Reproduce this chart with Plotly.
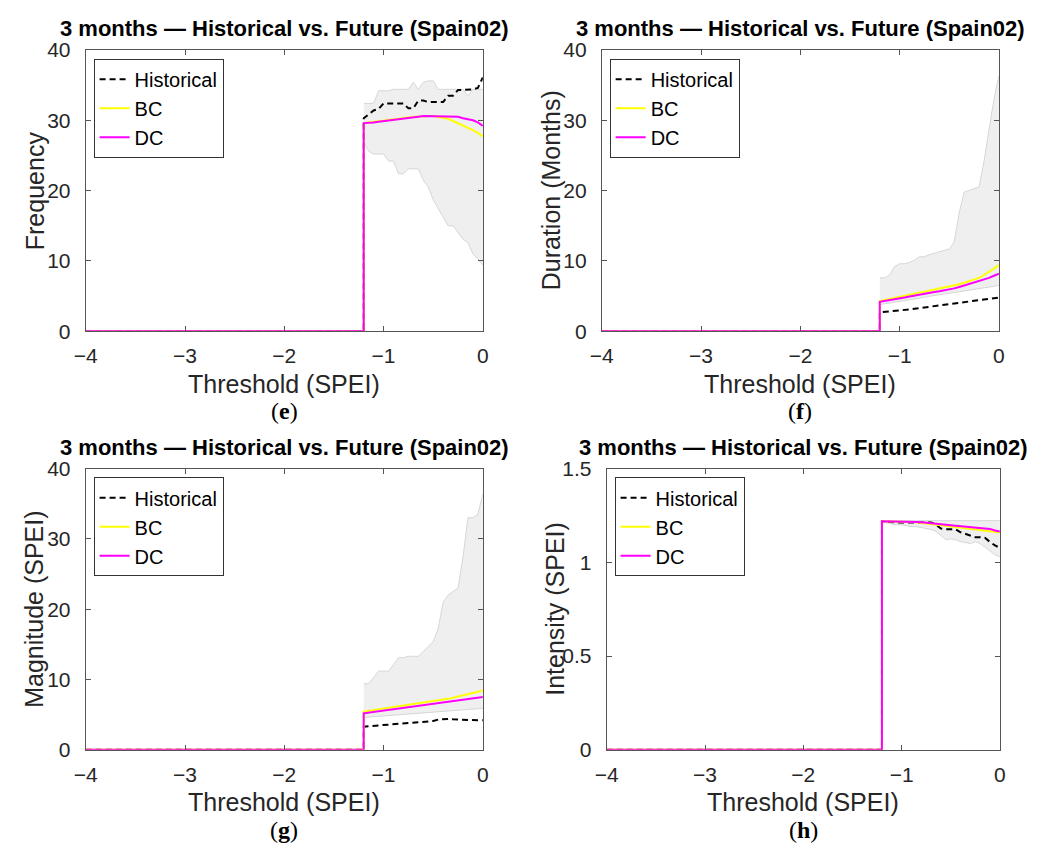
import plotly.graph_objects as go

# SPEI thresholds where the drought indices are evaluated (right of the onset)
THRESH = [-1.20, -1.15, -1.10, -1.05, -1.00, -0.95, -0.90, -0.85, -0.80, -0.75,
          -0.70, -0.65, -0.60, -0.55, -0.50, -0.45, -0.40, -0.35, -0.30, -0.25,
          -0.20, -0.15, -0.10, -0.05, 0.00]
# thresholds with no drought events (all indices are zero)
ZERO_X = [-4.0, -1.20]
ZERO_Y = [0.0, 0.0]

# (e) Frequency
FREQ_HIST = [30.3, 30.8, 31.4, 31.6, 32.4, 32.4, 32.4, 32.4, 32.4, 31.7,
             31.7, 32.8, 32.8, 32.6, 32.6, 32.6, 32.6, 33.5, 33.5, 34.3,
             34.3, 34.3, 34.4, 34.6, 36.1]
FREQ_BC = [29.6, 29.7, 29.8, 29.9, 30.0, 30.1, 30.2, 30.3, 30.4, 30.5,
           30.5, 30.5, 30.6, 30.6, 30.6, 30.5, 30.4, 30.2, 29.9, 29.6,
           29.3, 29.0, 28.6, 28.2, 27.7]
FREQ_DC = [29.6, 29.6, 29.7, 29.8, 29.9, 30.0, 30.1, 30.2, 30.3, 30.3,
           30.4, 30.5, 30.6, 30.6, 30.6, 30.6, 30.5, 30.5, 30.6, 30.5,
           30.3, 30.2, 30.0, 29.7, 29.2]
FREQ_LO = [27.0, 25.6, 25.2, 25.2, 25.2, 24.2, 24.2, 22.4, 22.4, 23.1,
           23.1, 23.1, 21.5, 20.5, 18.7, 17.5, 16.2, 15.0, 15.0, 14.0,
           13.1, 12.6, 11.0, 10.3, 9.4]
FREQ_HI = [32.4, 32.4, 32.4, 34.2, 34.2, 34.2, 34.4, 34.4, 34.4, 34.4,
           35.4, 34.4, 35.4, 35.6, 35.6, 34.4, 34.4, 34.4, 34.4, 34.4,
           34.4, 33.5, 34.4, 34.4, 34.4]

# (f) Duration
DUR_HIST = [2.7, 2.75, 2.8, 2.9, 3.0, 3.05, 3.1, 3.2, 3.3, 3.35,
            3.4, 3.5, 3.6, 3.7, 3.8, 3.9, 4.0, 4.1, 4.2, 4.3,
            4.4, 4.5, 4.6, 4.7, 4.8]
DUR_BC = [4.3, 4.45, 4.6, 4.75, 4.9, 5.0, 5.15, 5.3, 5.4, 5.55,
          5.7, 5.85, 6.0, 6.15, 6.3, 6.5, 6.7, 6.9, 7.1, 7.35,
          7.6, 8.0, 8.4, 8.9, 9.4]
DUR_DC = [4.2, 4.3, 4.45, 4.6, 4.7, 4.8, 4.95, 5.1, 5.2, 5.3,
          5.45, 5.6, 5.7, 5.8, 5.95, 6.1, 6.3, 6.5, 6.7, 6.9,
          7.1, 7.35, 7.6, 7.9, 8.2]
DUR_LO = [3.8, 3.9, 4.0, 4.15, 4.3, 4.4, 4.5, 4.6, 4.7, 4.85,
          5.0, 5.1, 5.2, 5.3, 5.4, 5.5, 5.6, 5.7, 5.8, 5.9,
          6.0, 6.1, 6.2, 6.35, 6.5]
DUR_HI = [7.6, 7.6, 8.0, 9.2, 9.6, 9.6, 9.8, 10.1, 10.6, 10.6,
          10.9, 11.1, 11.3, 11.5, 11.7, 12.7, 16.8, 19.8, 20.0, 20.2,
          20.5, 24.2, 28.4, 33.0, 36.3]

# (g) Magnitude
MAG_HIST = [3.3, 3.35, 3.4, 3.45, 3.5, 3.55, 3.6, 3.65, 3.7, 3.8,
            3.85, 3.9, 4.0, 4.05, 4.1, 4.3, 4.4, 4.4, 4.35, 4.3,
            4.3, 4.25, 4.25, 4.2, 4.2]
MAG_BC = [5.45, 5.55, 5.65, 5.75, 5.9, 6.0, 6.1, 6.2, 6.3, 6.4,
          6.5, 6.6, 6.7, 6.8, 6.9, 7.0, 7.1, 7.25, 7.4, 7.55,
          7.7, 7.85, 8.05, 8.25, 8.5]
MAG_DC = [5.2, 5.3, 5.4, 5.5, 5.6, 5.7, 5.8, 5.85, 5.95, 6.05,
          6.1, 6.2, 6.3, 6.4, 6.5, 6.6, 6.7, 6.8, 6.9, 7.0,
          7.1, 7.2, 7.3, 7.4, 7.5]
MAG_LO = [4.6, 4.65, 4.7, 4.75, 4.8, 4.85, 4.9, 5.0, 5.05, 5.1,
          5.15, 5.2, 5.25, 5.3, 5.35, 5.4, 5.45, 5.5, 5.6, 5.65,
          5.7, 5.75, 5.8, 5.85, 5.9]
MAG_HI = [9.4, 9.4, 10.3, 11.2, 11.2, 11.2, 12.1, 13.1, 13.1, 13.3,
          13.3, 13.3, 14.0, 14.7, 15.4, 17.2, 21.0, 22.0, 22.5, 23.0,
          27.4, 33.0, 33.0, 33.5, 36.4]

# (h) Intensity
INT_HIST = [1.219, 1.216, 1.214, 1.213, 1.212, 1.212, 1.213, 1.214, 1.215, 1.216,
            1.212, 1.200, 1.180, 1.176, 1.176, 1.176, 1.160, 1.150, 1.140, 1.134,
            1.134, 1.130, 1.108, 1.090, 1.077]
INT_BC = [1.219, 1.219, 1.218, 1.218, 1.217, 1.216, 1.215, 1.213, 1.210, 1.207,
          1.204, 1.201, 1.198, 1.195, 1.192, 1.189, 1.186, 1.183, 1.180, 1.177,
          1.174, 1.171, 1.167, 1.163, 1.159]
INT_DC = [1.219, 1.219, 1.219, 1.218, 1.218, 1.217, 1.216, 1.215, 1.213, 1.211,
          1.209, 1.207, 1.204, 1.201, 1.198, 1.195, 1.192, 1.190, 1.188, 1.186,
          1.183, 1.180, 1.177, 1.170, 1.164]
INT_LO = [1.215, 1.210, 1.205, 1.200, 1.200, 1.195, 1.190, 1.190, 1.185, 1.180,
          1.175, 1.165, 1.140, 1.120, 1.125, 1.120, 1.110, 1.105, 1.100, 1.110,
          1.100, 1.080, 1.060, 1.040, 1.030]
INT_HI = [1.222] * 25

TITLE = "3 months \u2014 Historical vs. Future (Spain02)"
XLABEL = "Threshold (SPEI)"
X_TICKS = [-4, -3, -2, -1, 0]

W, H = 1058, 865
FONT = "Liberation Sans, Arial, sans-serif"
TXT = "#262626"
AX = "#555555"

# panel geometry in pixels: left, right, top, bottom
PANELS = [
    dict(key="e", L=75, R=479, T=39, B=328, ylab="Frequency", yr=[0, 40], dt=10,
         hist=FREQ_HIST, bc=FREQ_BC, dc=FREQ_DC, lo=FREQ_LO, hi=FREQ_HI),
    dict(key="f", L=600, R=1004, T=39, B=328, ylab="Duration (Months)", yr=[0, 40], dt=10,
         hist=DUR_HIST, bc=DUR_BC, dc=DUR_DC, lo=DUR_LO, hi=DUR_HI),
    dict(key="g", L=75, R=479, T=469, B=758, ylab="Magnitude (SPEI)", yr=[0, 40], dt=10,
         hist=MAG_HIST, bc=MAG_BC, dc=MAG_DC, lo=MAG_LO, hi=MAG_HI),
    dict(key="h", L=605, R=1005, T=469, B=758, ylab="Intensity (SPEI)", yr=[0, 1.5], dt=0.5,
         hist=INT_HIST, bc=INT_BC, dc=INT_DC, lo=INT_LO, hi=INT_HI),
]

fig = go.Figure()
layout = {}
annotations = []

for i, p in enumerate(PANELS):
    n = "" if i == 0 else str(i + 1)
    xa, ya = "x" + n, "y" + n
    leg = "legend" + n
    # model range band
    fig.add_trace(go.Scatter(x=THRESH, y=p["lo"], mode="lines", xaxis=xa, yaxis=ya,
                             line=dict(color="#d6d6d6", width=1), showlegend=False,
                             hoverinfo="skip"))
    fig.add_trace(go.Scatter(x=THRESH, y=p["hi"], mode="lines", xaxis=xa, yaxis=ya,
                             line=dict(color="#d6d6d6", width=1), fill="tonexty",
                             fillcolor="#efefef", showlegend=False, hoverinfo="skip"))
    fig.add_trace(go.Scatter(x=ZERO_X + THRESH, y=ZERO_Y + p["hist"], mode="lines",
                             xaxis=xa, yaxis=ya, name="Historical", legend=leg,
                             line=dict(color="black", width=2, dash="6px,4px")))
    fig.add_trace(go.Scatter(x=ZERO_X + THRESH, y=ZERO_Y + p["bc"], mode="lines",
                             xaxis=xa, yaxis=ya, name="BC", legend=leg,
                             line=dict(color="#ffff00", width=2)))
    fig.add_trace(go.Scatter(x=ZERO_X + THRESH, y=ZERO_Y + p["dc"], mode="lines",
                             xaxis=xa, yaxis=ya, name="DC", legend=leg,
                             line=dict(color="#ff00ff", width=2)))

    xd = [p["L"] / W, p["R"] / W]
    yd = [1 - p["B"] / H, 1 - p["T"] / H]
    axis_common = dict(showline=True, linecolor=AX, linewidth=1, mirror="ticks",
                       ticks="inside", ticklen=5, tickcolor=AX, showgrid=False,
                       zeroline=False, tickfont=dict(family=FONT, size=21, color=TXT))
    layout["xaxis" + n] = dict(domain=xd, range=[-4, 0], tickvals=X_TICKS,
                               anchor=ya, ticklabelstandoff=6, **axis_common)
    layout["yaxis" + n] = dict(domain=yd, range=p["yr"], dtick=p["dt"],
                               anchor=xa, ticklabelstandoff=10, **axis_common)
    layout[leg] = dict(x=(p["L"] + 8) / W, y=1 - (p["T"] + 9) / H,
                       xanchor="left", yanchor="top", bgcolor="white",
                       bordercolor="#333333", borderwidth=1, traceorder="normal",
                       font=dict(family=FONT, size=20, color="black"),
                       tracegroupgap=0, itemwidth=30)

    cx = (p["L"] + p["R"]) / 2 / W
    annotations.append(dict(text="<b>" + TITLE + "</b>", x=cx, y=1 - (p["T"] - 22) / H,
                            xref="paper", yref="paper", showarrow=False,
                            xanchor="center", yanchor="middle",
                            font=dict(family=FONT, size=22, color="black")))
    annotations.append(dict(text=XLABEL, x=cx, y=1 - (p["B"] + 54) / H,
                            xref="paper", yref="paper", showarrow=False,
                            xanchor="center", yanchor="middle",
                            font=dict(family=FONT, size=25, color=TXT)))
    annotations.append(dict(text=p["ylab"], x=(p["L"] - 52) / W,
                            y=1 - (p["T"] + p["B"]) / 2 / H, textangle=-90,
                            xref="paper", yref="paper", showarrow=False,
                            xanchor="center", yanchor="middle",
                            font=dict(family=FONT, size=25, color=TXT)))
    annotations.append(dict(text="(<b>" + p["key"] + "</b>)", x=cx, y=1 - (p["B"] + 82) / H,
                            xref="paper", yref="paper", showarrow=False,
                            xanchor="center", yanchor="middle",
                            font=dict(family="Liberation Serif, DejaVu Serif, serif",
                                      size=24, color="black")))

fig.update_layout(width=W, height=H, margin=dict(l=0, r=0, t=0, b=0),
                  paper_bgcolor="white", plot_bgcolor="white",
                  annotations=annotations, **layout)

fig.write_html("out.html")
